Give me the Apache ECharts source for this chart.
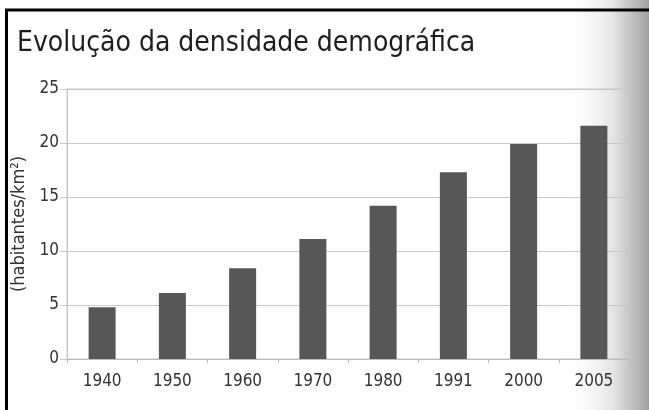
<!DOCTYPE html>
<html><head><meta charset="utf-8">
<script src="https://cdn.jsdelivr.net/npm/echarts@6/dist/echarts.min.js"></script>
<style>html,body{margin:0;padding:0;background:#fff}#c{width:649px;height:410px}</style>
</head><body><div id="c"></div>
<script>
const categories = ['1940','1950','1960','1970','1980','1991','2000','2005'];
const density = [4.8, 6.1, 8.4, 11.1, 14.2, 17.3, 19.9, 21.6];
const yTicks = [0, 5, 10, 15, 20, 25];
const titleText = 'Evolução da densidade demográfica';
const yName = '(habitantes/km²)';
const FONT = '"Liberation Sans Narrow", "DejaVu Sans Condensed", sans-serif';

const chart = echarts.init(document.getElementById('c'), null, {renderer: 'canvas'});
chart.setOption({
  backgroundColor: '#fff',
  animation: false,
  graphic: [
    {type: 'rect', z: -10, shape: {x: 560, y: 0, width: 89, height: 410},
     style: {fill: {type: 'linear', x: 0, y: 0, x2: 1, y2: 0,
       colorStops: [{offset: 0, color: 'rgba(255,255,255,0)'}, {offset: 0.6, color: 'rgba(228,228,228,1)'}, {offset: 1, color: 'rgba(160,160,160,1)'}]}}},
    {type: 'line', shape: {x1: 5, y1: 10, x2: 649, y2: 10}, style: {stroke: '#000', lineWidth: 3}},
    {type: 'line', shape: {x1: 6.5, y1: 9, x2: 6.5, y2: 410}, style: {stroke: '#000', lineWidth: 3}}
  ],
  title: {
    text: titleText, left: 12, top: 25,
    textStyle: {fontFamily: FONT, fontSize: 28, fontWeight: 'normal', color: '#1e1e1e'}
  },
  grid: {left: 67, right: 20, top: 89, bottom: 51, show: true, borderColor: '#c8c8c8', borderWidth: 1, containLabel: false},
  xAxis: {
    type: 'category', data: categories,
    axisLine: {lineStyle: {color: '#bbb', width: 1}},
    axisTick: {show: true, length: 4, lineStyle: {color: '#bbb'}},
    axisLabel: {fontFamily: FONT, fontSize: 17, color: '#333', margin: 14}
  },
  yAxis: {
    type: 'value', min: yTicks[0], max: yTicks[yTicks.length - 1], interval: 5,
    name: yName, nameLocation: 'middle', nameGap: 35, nameRotate: 90,
    nameTextStyle: {fontFamily: FONT, fontSize: 18, color: '#333'},
    axisLine: {show: true, lineStyle: {color: '#c8c8c8'}},
    axisTick: {show: true, length: 7, lineStyle: {color: '#c8c8c8'}},
    splitLine: {lineStyle: {color: '#c8c8c8', width: 1}},
    axisLabel: {fontFamily: FONT, fontSize: 17, color: '#333', margin: 8}
  },
  series: [{
    type: 'bar', data: density, barWidth: 27,
    itemStyle: {color: '#575757'}
  }]
});
</script></body></html>
